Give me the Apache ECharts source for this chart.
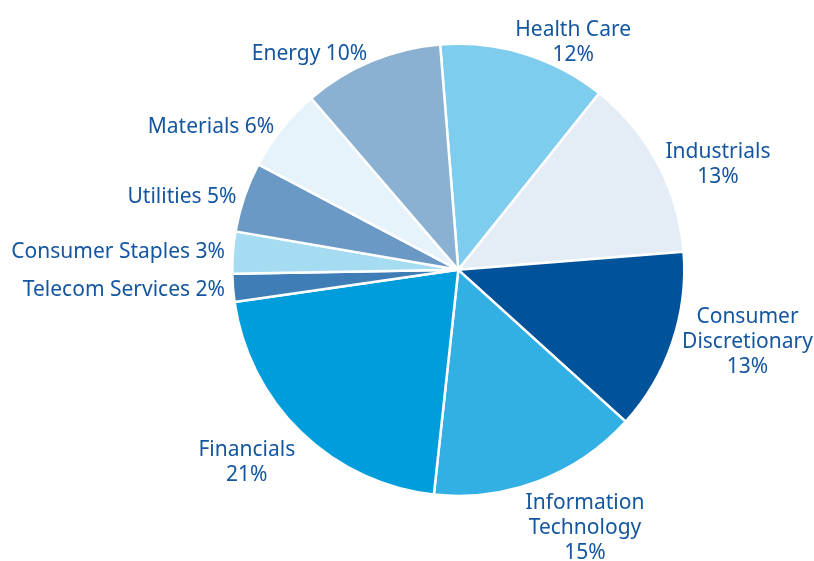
<!DOCTYPE html>
<html>
<head>
<meta charset="utf-8">
<script src="https://cdn.jsdelivr.net/npm/echarts@6/dist/echarts.min.js"></script>
<style>
  html, body { margin: 0; padding: 0; background: #fff; }
  #chart { width: 814px; height: 561px; }
</style>
</head>
<body>
<div id="chart"></div>
<script>
// sectors, clockwise from the top
var sectors = ["Health Care", "Industrials", "Consumer Discretionary", "Information Technology",
  "Financials", "Telecom Services", "Consumer Staples", "Utilities", "Materials", "Energy"];
var labelLines = [["Health Care", "12%"], ["Industrials", "13%"], ["Consumer", "Discretionary", "13%"],
  ["Information", "Technology", "15%"], ["Financials", "21%"], ["Telecom Services 2%"],
  ["Consumer Staples 3%"], ["Utilities 5%"], ["Materials 6%"], ["Energy 10%"]];
var weights = [12, 13, 13, 15, 21, 2, 3, 5, 6, 10];
var colors = ["#7fcdee", "#e4edf5", "#00529b", "#33b0e3", "#009ddc", "#3f7db6",
  "#a6dcf2", "#6a99c6", "#e6f3fb", "#8ab0d2"];

// small nudges so the labels sit like the original
var nudge = {
  "Health Care": [-15, -8],
  "Industrials": [0, 2],
  "Consumer Discretionary": [2, -2],
  "Information Technology": [-19, 44],
  "Financials": [1, 28],
  "Telecom Services": [0, 2],
  "Utilities": [0, 1],
  "Energy": [2, -4]
};

var chart = echarts.init(document.getElementById("chart"));
var option = {
  animation: false,
  series: [{
    type: "pie",
    center: ["56.3%", "48.1%"],
    radius: 226,
    startAngle: 94.6,
    clockwise: true,
    avoidLabelOverlap: false,
    itemStyle: { borderColor: "#fff", borderWidth: 2.5 },
    label: {
      show: true,
      position: "outside",
      color: "#1456a0",
      fontFamily: "Noto Sans",
      fontSize: 21,
      lineHeight: 25,
      formatter: function (p) {
        return labelLines[p.dataIndex].map(function (l) { return "{c|" + l + "}"; }).join("\n");
      },
      rich: {
        c: { align: "center", color: "#1456a0", fontFamily: "Noto Sans", fontSize: 21, lineHeight: 25 }
      }
    },
    labelLine: { show: false, length: 3, length2: 0 },
    labelLayout: function (params) {
      var n = nudge[sectors[params.dataIndex]];
      return n ? { dx: n[0], dy: n[1] } : {};
    },
    data: sectors.map(function (s, i) {
      return { name: s, value: weights[i], itemStyle: { color: colors[i] } };
    })
  }]
};
chart.setOption(option);
</script>
</body>
</html>
